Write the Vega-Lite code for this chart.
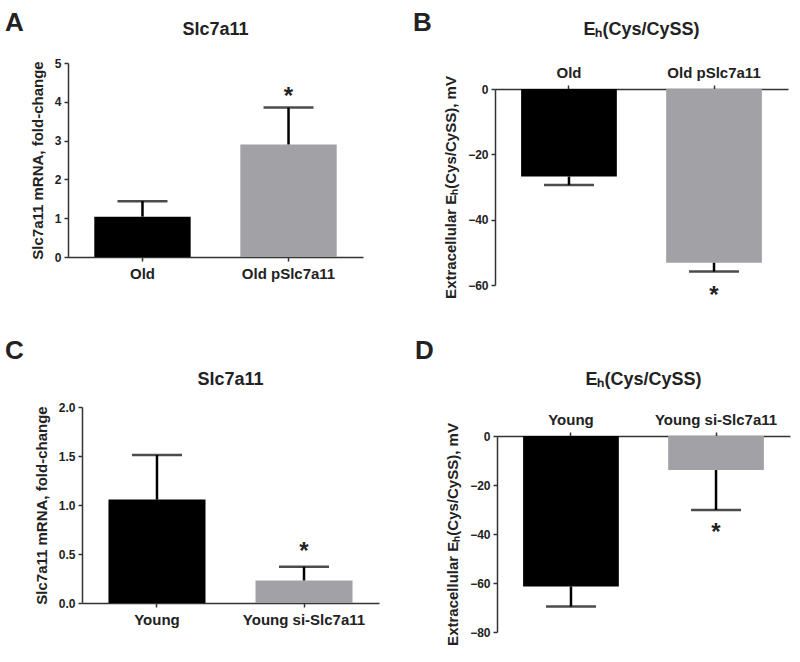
{
  "$schema": "https://vega.github.io/schema/vega-lite/v6.json",
  "background": "white",
  "padding": {"left": 5, "top": 10, "right": 5, "bottom": 5},
  "config": {
    "font": "Liberation Sans",
    "view": {"stroke": null},
    "axis": {
      "labelFont": "Liberation Sans", "labelFontSize": 12, "labelFontWeight": "bold", "labelColor": "#222",
      "titleFont": "Liberation Sans", "titleFontSize": 15, "titleFontWeight": "bold", "titleColor": "#222",
      "domainColor": "#333", "domainWidth": 1.5, "tickColor": "#333", "tickWidth": 1.5, "tickSize": 4,
      "grid": false, "labelPadding": 3, "titlePadding": 9, "labelOverlap": false
    },
    "axisX": {"labelAngle": 0, "labelFontSize": 15, "labelPadding": 5},
    "title": {"font": "Liberation Sans", "fontSize": 18, "fontWeight": "bold", "color": "#222"},
    "bar": {"stroke": null}
  },
  "datasets": {
    "none": [],
    "a": [
      {"group": "Old", "mean": 1.04, "err": 1.44, "star": null},
      {"group": "Old pSlc7a11", "mean": 2.9, "err": 3.85, "star": 4.2}
    ],
    "b": [
      {"group": "Old", "mean": -26.8, "err": -29.4, "star": null},
      {"group": "Old pSlc7a11", "mean": -53.2, "err": -55.9, "star": -62.1}
    ],
    "c": [
      {"group": "Young", "mean": 1.055, "err": 1.51, "star": null},
      {"group": "Young si-Slc7a11", "mean": 0.23, "err": 0.37, "star": 0.56}
    ],
    "d": [
      {"group": "Young", "mean": -61.4, "err": -69.6, "star": null},
      {"group": "Young si-Slc7a11", "mean": -13.9, "err": -30.2, "star": -37.8}
    ]
  },
  "spacing": 30,
  "vconcat": [
    {
      "spacing": 50,
      "hconcat": [
        {
          "spacing": -16,
          "vconcat": [
            {"width": 10, "height": 1, "data": {"name": "none"}, "mark": "point",
             "title": {"text": "A", "anchor": "start", "frame": "group", "fontSize": 26, "dx": -63, "offset": 0}},
            {
              "width": 295, "height": 194,
              "title": {"text": "Slc7a11", "offset": 18},
              "data": {"name": "a"},
              "encoding": {
                "x": {"field": "group", "type": "nominal", "sort": null,
                      "scale": {"paddingInner": 0.34, "paddingOuter": 0.18},
                      "axis": {"title": null}}
              },
              "layer": [
                {"mark": {"type": "bar"},
                 "encoding": {
                   "y": {"field": "mean", "type": "quantitative", "scale": {"domain": [0, 5], "nice": false},
                         "axis": {"title": "Slc7a11 mRNA, fold-change", "values": [0, 1, 2, 3, 4, 5]}},
                   "color": {"field": "group", "type": "nominal", "legend": null,
                             "scale": {"domain": ["Old", "Old pSlc7a11"], "range": ["#000000", "#a2a2a6"]}}}},
                {"mark": {"type": "rule", "strokeWidth": 2.5, "color": "#000"},
                 "encoding": {"y": {"field": "mean", "type": "quantitative", "scale": {"domain": [0, 5], "nice": false},
                         "axis": {"title": "Slc7a11 mRNA, fold-change", "values": [0, 1, 2, 3, 4, 5]}}, "y2": {"field": "err"}}},
                {"mark": {"type": "tick", "thickness": 2.5, "size": 50, "color": "#000"},
                 "encoding": {"y": {"field": "err", "type": "quantitative", "scale": {"domain": [0, 5], "nice": false},
                         "axis": {"title": "Slc7a11 mRNA, fold-change", "values": [0, 1, 2, 3, 4, 5]}}}},
                {"transform": [{"filter": "datum.star != null"}],
                 "mark": {"type": "text", "text": "*", "fontSize": 24, "fontWeight": "bold", "baseline": "alphabetic", "dy": 10, "color": "#222"},
                 "encoding": {"y": {"field": "star", "type": "quantitative", "scale": {"domain": [0, 5], "nice": false},
                         "axis": {"title": "Slc7a11 mRNA, fold-change", "values": [0, 1, 2, 3, 4, 5]}}}}
              ]
            }
          ]
        },
        {
          "spacing": -16,
          "vconcat": [
            {"width": 10, "height": 1, "data": {"name": "none"}, "mark": "point",
             "title": {"text": "B", "anchor": "start", "frame": "group", "fontSize": 26, "dx": -82, "offset": 0}},
            {
              "width": 293, "height": 196,
              "title": {"text": "Eₕ(Cys/CySS)", "offset": 26},
              "data": {"name": "b"},
              "encoding": {
                "x": {"field": "group", "type": "nominal", "sort": null,
                      "scale": {"paddingInner": 0.34, "paddingOuter": 0.18},
                      "axis": {"title": null, "orient": "top"}}
              },
              "layer": [
                {"mark": {"type": "bar"},
                 "encoding": {
                   "y": {"field": "mean", "type": "quantitative", "scale": {"domain": [-60, 0], "nice": false},
                         "axis": {"title": "Extracellular Eₕ(Cys/CySS), mV", "values": [0, -20, -40, -60]}},
                   "color": {"field": "group", "type": "nominal", "legend": null,
                             "scale": {"domain": ["Old", "Old pSlc7a11"], "range": ["#000000", "#a2a2a6"]}}}},
                {"mark": {"type": "rule", "strokeWidth": 2.5, "color": "#000"},
                 "encoding": {"y": {"field": "mean", "type": "quantitative", "scale": {"domain": [-60, 0], "nice": false},
                         "axis": {"title": "Extracellular Eₕ(Cys/CySS), mV", "values": [0, -20, -40, -60]}}, "y2": {"field": "err"}}},
                {"mark": {"type": "tick", "thickness": 2.5, "size": 50, "color": "#000"},
                 "encoding": {"y": {"field": "err", "type": "quantitative", "scale": {"domain": [-60, 0], "nice": false},
                         "axis": {"title": "Extracellular Eₕ(Cys/CySS), mV", "values": [0, -20, -40, -60]}}}},
                {"transform": [{"filter": "datum.star != null"}],
                 "mark": {"type": "text", "text": "*", "fontSize": 24, "fontWeight": "bold", "baseline": "alphabetic", "dy": 11, "color": "#222"},
                 "encoding": {"y": {"field": "star", "type": "quantitative", "scale": {"domain": [-60, 0], "nice": false},
                         "axis": {"title": "Extracellular Eₕ(Cys/CySS), mV", "values": [0, -20, -40, -60]}}}}
              ]
            }
          ]
        }
      ]
    },
    {
      "spacing": -64,
      "hconcat": [
        {"width": 1, "height": 1, "data": {"name": "none"}, "mark": "point"},
        {
          "spacing": 36,
          "hconcat": [
            {
              "spacing": 6,
              "vconcat": [
                {"width": 10, "height": 1, "data": {"name": "none"}, "mark": "point",
                 "title": {"text": "C", "anchor": "start", "frame": "group", "fontSize": 26, "dx": -77, "offset": 0}},
                {
                  "width": 297, "height": 196,
                  "title": {"text": "Slc7a11", "offset": 12},
                  "data": {"name": "c"},
                  "encoding": {
                    "x": {"field": "group", "type": "nominal", "sort": null,
                          "scale": {"paddingInner": 0.34, "paddingOuter": 0.18},
                          "axis": {"title": null}}
                  },
                  "layer": [
                    {"mark": {"type": "bar"},
                     "encoding": {
                       "y": {"field": "mean", "type": "quantitative", "scale": {"domain": [0, 2], "nice": false},
                             "axis": {"title": "Slc7a11 mRNA, fold-change", "values": [0, 0.5, 1, 1.5, 2], "format": ".1f"}},
                       "color": {"field": "group", "type": "nominal", "legend": null,
                                 "scale": {"domain": ["Young", "Young si-Slc7a11"], "range": ["#000000", "#a2a2a6"]}}}},
                    {"mark": {"type": "rule", "strokeWidth": 2.5, "color": "#000"},
                     "encoding": {"y": {"field": "mean", "type": "quantitative", "scale": {"domain": [0, 2], "nice": false},
                             "axis": {"title": "Slc7a11 mRNA, fold-change", "values": [0, 0.5, 1, 1.5, 2], "format": ".1f"}}, "y2": {"field": "err"}}},
                    {"mark": {"type": "tick", "thickness": 2.5, "size": 50, "color": "#000"},
                     "encoding": {"y": {"field": "err", "type": "quantitative", "scale": {"domain": [0, 2], "nice": false},
                             "axis": {"title": "Slc7a11 mRNA, fold-change", "values": [0, 0.5, 1, 1.5, 2], "format": ".1f"}}}},
                    {"transform": [{"filter": "datum.star != null"}],
                     "mark": {"type": "text", "text": "*", "fontSize": 24, "fontWeight": "bold", "baseline": "alphabetic", "dy": 11, "color": "#222"},
                     "encoding": {"y": {"field": "star", "type": "quantitative", "scale": {"domain": [0, 2], "nice": false},
                             "axis": {"title": "Slc7a11 mRNA, fold-change", "values": [0, 0.5, 1, 1.5, 2], "format": ".1f"}}}}
                  ]
                }
              ]
            },
            {
              "spacing": 6,
              "vconcat": [
                {"width": 10, "height": 1, "data": {"name": "none"}, "mark": "point",
                 "title": {"text": "D", "anchor": "start", "frame": "group", "fontSize": 26, "dx": -82, "offset": 0}},
                {
                  "width": 293, "height": 196,
                  "title": {"text": "Eₕ(Cys/CySS)", "offset": 23},
                  "data": {"name": "d"},
                  "encoding": {
                    "x": {"field": "group", "type": "nominal", "sort": null,
                          "scale": {"paddingInner": 0.34, "paddingOuter": 0.18},
                          "axis": {"title": null, "orient": "top"}}
                  },
                  "layer": [
                    {"mark": {"type": "bar"},
                     "encoding": {
                       "y": {"field": "mean", "type": "quantitative", "scale": {"domain": [-80, 0], "nice": false},
                             "axis": {"title": "Extracellular Eₕ(Cys/CySS), mV", "values": [0, -20, -40, -60, -80]}},
                       "color": {"field": "group", "type": "nominal", "legend": null,
                                 "scale": {"domain": ["Young", "Young si-Slc7a11"], "range": ["#000000", "#a2a2a6"]}}}},
                    {"mark": {"type": "rule", "strokeWidth": 2.5, "color": "#000"},
                     "encoding": {"y": {"field": "mean", "type": "quantitative", "scale": {"domain": [-80, 0], "nice": false},
                             "axis": {"title": "Extracellular Eₕ(Cys/CySS), mV", "values": [0, -20, -40, -60, -80]}}, "y2": {"field": "err"}}},
                    {"mark": {"type": "tick", "thickness": 2.5, "size": 50, "color": "#000"},
                     "encoding": {"y": {"field": "err", "type": "quantitative", "scale": {"domain": [-80, 0], "nice": false},
                             "axis": {"title": "Extracellular Eₕ(Cys/CySS), mV", "values": [0, -20, -40, -60, -80]}}}},
                    {"transform": [{"filter": "datum.star != null"}],
                     "mark": {"type": "text", "text": "*", "fontSize": 24, "fontWeight": "bold", "baseline": "alphabetic", "dy": 11, "color": "#222"},
                     "encoding": {"y": {"field": "star", "type": "quantitative", "scale": {"domain": [-80, 0], "nice": false},
                             "axis": {"title": "Extracellular Eₕ(Cys/CySS), mV", "values": [0, -20, -40, -60, -80]}}}}
                  ]
                }
              ]
            }
          ]
        }
      ]
    }
  ]
}
